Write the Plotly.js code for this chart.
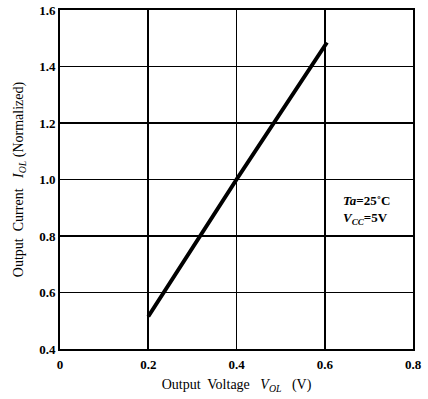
<!DOCTYPE html>
<html><head><meta charset="utf-8">
<script src="https://cdn.plot.ly/plotly-3.0.1.min.js"></script>
<style>body{margin:0;background:#fff}#c{width:428px;height:399px}</style>
</head><body><div id="c"></div>
<script>
const voltage = [0.2, 0.4, 0.605];
const current = [0.515, 1.0, 1.485];
const xTicks = [0, 0.2, 0.4, 0.6, 0.8];
const xTickText = ['0', '0.2', '0.4', '0.6', '0.8'];
const yTicks = [0.4, 0.6, 0.8, 1.0, 1.2, 1.4, 1.6];
const yTickText = ['0.4', '0.6', '0.8', '1.0', '1.2', '1.4', '1.6'];

const fontFam = 'Liberation Serif, Times New Roman, serif';
const trace = {
  x: voltage, y: current, mode: 'lines', type: 'scatter',
  line: {color: '#000', width: 4}, hoverinfo: 'skip'
};
const axisCommon = {
  showgrid: true, gridcolor: '#000', gridwidth: 1.6,
  showline: true, linecolor: '#000', linewidth: 2, mirror: true,
  zeroline: false, ticks: '', tickfont: {family: fontFam, size: 13, color: '#000', weight: 'bold'}
};
const layout = {
  width: 428, height: 399,
  margin: {l: 60, r: 15, t: 10, b: 50},
  paper_bgcolor: '#fff', plot_bgcolor: '#fff',
  showlegend: false,
  xaxis: Object.assign({}, axisCommon, {
    range: [0, 0.8], tickvals: xTicks, ticktext: xTickText, ticklabelstandoff: 2,
    title: {text: 'Output  Voltage   <i>V<sub>OL</sub></i>   (V)', font: {family: fontFam, size: 14, color: '#000'}, standoff: 9}
  }),
  yaxis: Object.assign({}, axisCommon, {
    range: [0.4, 1.6], tickvals: yTicks, ticktext: yTickText,
    title: {text: 'Output  Current   <i>I<sub>OL</sub></i> (Normalized)', font: {family: fontFam, size: 14, color: '#000'}, standoff: 12}
  }),
  annotations: [
    {xref: 'paper', yref: 'paper', x: 0.795, y: 0.41, xanchor: 'left', yanchor: 'middle', showarrow: false,
     align: 'left', text: '<b><i>Ta</i>=25˚C</b><br><b><i>V<sub>CC</sub></i>=5V</b>',
     font: {family: fontFam, size: 13, color: '#000'}}
  ]
};
Plotly.newPlot('c', [trace], layout, {displayModeBar: false, staticPlot: true});
</script></body></html>
